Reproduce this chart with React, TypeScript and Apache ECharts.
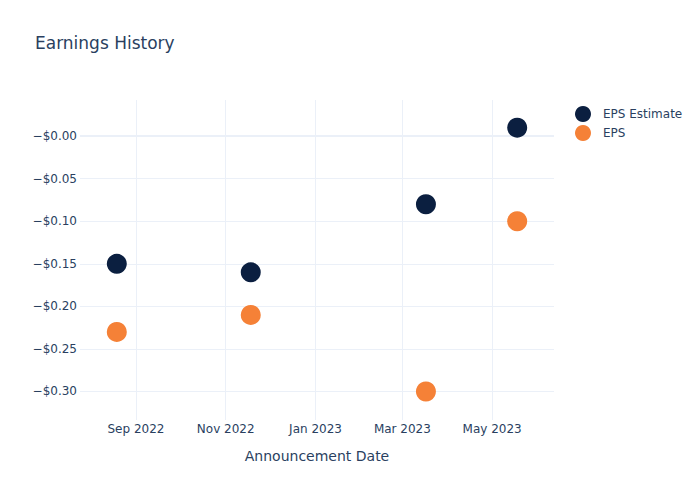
import React, { useEffect, useRef } from "react";
import * as echarts from "echarts";

const announcementDates = ["2022-08-19", "2022-11-18", "2023-03-17", "2023-05-18"];
const epsEstimate = [-0.15, -0.16, -0.08, 0.01];
const epsActual = [-0.23, -0.21, -0.3, -0.1];
const xTickDates = ["2022-09-01", "2022-11-01", "2023-01-01", "2023-03-01", "2023-05-01"];
const yTickValues = [0, -0.05, -0.1, -0.15, -0.2, -0.25, -0.3];
const monthNames = ["Jan", "Feb", "Mar", "Apr", "May", "Jun", "Jul", "Aug", "Sep", "Oct", "Nov", "Dec"];

const FONT = "DejaVu Sans";
const TEXT = "#2a3f5f";
const GRID = "#ebf0f8";

const ts = (d: string) => {
  const [y, m, dd] = d.split("-").map(Number);
  return Date.UTC(y, m - 1, dd);
};

export default function App() {
  const ref = useRef<HTMLDivElement>(null);
  useEffect(() => {
    if (!ref.current) return;
    const chart = echarts.init(ref.current, undefined, { renderer: "svg" });
    const xTicks = xTickDates.map(ts);
    chart.setOption({
      animation: false,
      backgroundColor: "#fff",
      textStyle: { fontFamily: FONT },
      title: {
        text: "Earnings History",
        left: 30,
        top: 29,
        textStyle: { fontFamily: FONT, fontSize: 17, fontWeight: "normal", color: TEXT },
      },
      legend: {
        orient: "vertical",
        left: 570,
        top: 101,
        icon: "circle",
        itemWidth: 16,
        itemHeight: 16,
        itemGap: 3,
        textStyle: { fontFamily: FONT, fontSize: 12, color: TEXT, padding: [0, 0, 0, 7] },
        data: ["EPS Estimate", "EPS"],
      },
      grid: { left: 80, right: 146, top: 100, bottom: 80, containLabel: false },
      xAxis: {
        type: "value",
        min: ts("2022-07-25"),
        max: ts("2023-06-12"),
        name: "Announcement Date",
        nameLocation: "middle",
        nameGap: 29,
        nameTextStyle: { fontFamily: FONT, fontSize: 14, color: TEXT },
        axisLine: { show: false },
        axisTick: { show: false, customValues: xTicks },
        axisLabel: {
          customValues: xTicks,
          margin: 3,
          fontFamily: FONT,
          fontSize: 12,
          color: TEXT,
          formatter: (v: number) => {
            const d = new Date(v);
            return monthNames[d.getUTCMonth()] + " " + d.getUTCFullYear();
          },
        },
        splitLine: { show: true, lineStyle: { color: GRID, width: 1 } },
      },
      yAxis: {
        type: "value",
        min: -0.3335,
        max: 0.0425,
        axisLine: { show: false },
        axisTick: { show: false, customValues: yTickValues },
        axisLabel: {
          customValues: yTickValues,
          margin: 3,
          fontFamily: FONT,
          fontSize: 12,
          color: TEXT,
          formatter: (v: number) => "\u2212$" + Math.abs(v).toFixed(2),
        },
        splitLine: { show: true, lineStyle: { color: GRID, width: 1 } },
      },
      series: [
        {
          name: "EPS Estimate",
          type: "scatter",
          symbolSize: 20,
          itemStyle: { color: "#0b1f40", opacity: 1 },
          data: announcementDates.map((d, i) => [ts(d), epsEstimate[i]]),
          markLine: {
            silent: true,
            z: 1,
            symbol: "none",
            label: { show: false },
            lineStyle: { color: GRID, width: 2, type: "solid" },
            data: [{ yAxis: 0 }],
          },
          z: 3,
        },
        {
          name: "EPS",
          type: "scatter",
          symbolSize: 20,
          itemStyle: { color: "#f58137", opacity: 1 },
          data: announcementDates.map((d, i) => [ts(d), epsActual[i]]),
          z: 3,
        },
      ],
    });
    return () => chart.dispose();
  }, []);
  return <div ref={ref} style={{ width: 700, height: 500, position: "absolute", left: 0, top: 0 }} />;
}
